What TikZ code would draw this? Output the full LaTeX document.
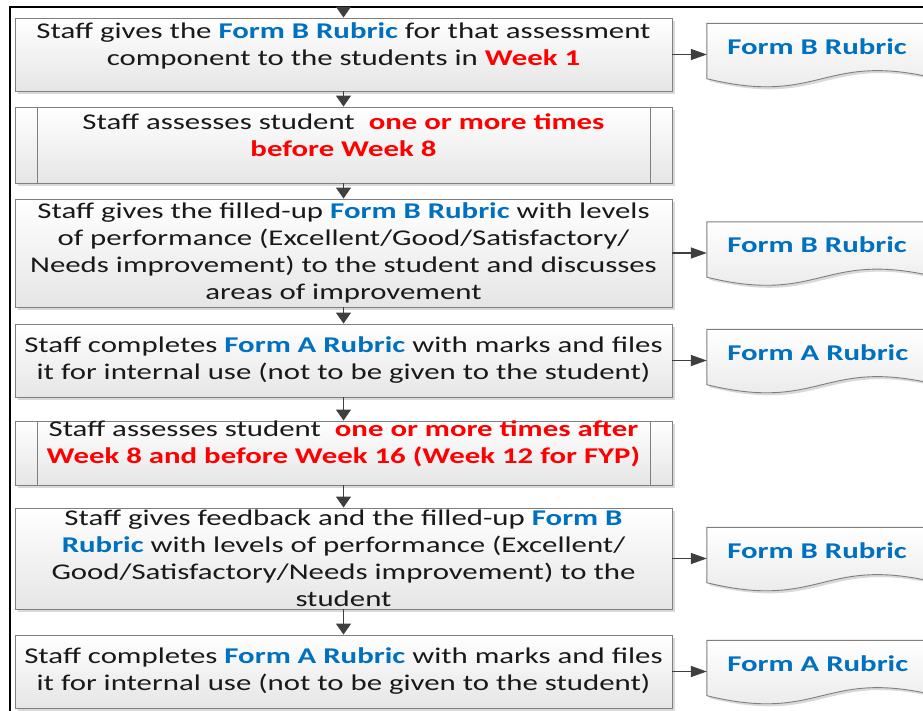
\documentclass[tikz,border=0pt]{standalone}
\usepackage{fontspec}
\setmainfont{Carlito}[FakeStretch=1.37]
\usetikzlibrary{arrows.meta, shadows, backgrounds, positioning}

\definecolor{rubricblue}{HTML}{0070C0}
\definecolor{weekred}{HTML}{FF0000}
\definecolor{boxgray}{HTML}{7F7F7F}
\definecolor{arrowgray}{HTML}{3F3F3F}

\newcommand{\formA}{\textcolor{rubricblue}{\bfseries Form A Rubric}}
\newcommand{\formB}{\textcolor{rubricblue}{\bfseries Form B Rubric}}
\newcommand{\blu}[1]{\textcolor{rubricblue}{\bfseries #1}}
\newcommand{\wk}[1]{\textcolor{weekred}{\bfseries #1}}

\tikzset{
  boxfont/.style={font=\fontsize{22.5}{27}\selectfont, text=black!90},
  stepbox/.style={boxfont, draw=boxgray, line width=0.9pt, top color=white, bottom color=black!10,
    minimum width=657, inner sep=0pt, align=center,
    drop shadow={shadow xshift=2.5pt, shadow yshift=-2.5pt, opacity=0.3}},
  subbox/.style={stepbox, path picture={
    \draw[boxgray, line width=0.9pt]
      ([xshift=22pt]path picture bounding box.north west) -- ([xshift=22pt]path picture bounding box.south west)
      ([xshift=-22pt]path picture bounding box.north east) -- ([xshift=-22pt]path picture bounding box.south east);}},
  rubricdoc/.style={minimum width=230, minimum height=62, inner sep=0pt},
  docline/.style={draw=boxgray, line width=0.9pt, top color=white, bottom color=black!10,
    drop shadow={shadow xshift=2.5pt, shadow yshift=-2.5pt, opacity=0.3}},
  flow/.style={draw=arrowgray, line width=1.4pt, -{Triangle[length=11pt, width=15pt]}},
  side/.style={flow, -{Triangle[length=16pt, width=11pt]}},
  frameline/.style={draw=black, line width=2.8pt}
}

\begin{document}
\begin{tikzpicture}[x=1pt, y=-1pt]
\useasboundingbox (0,0) rectangle (923,710);
\clip (0,0) rectangle (923,710);

% outer frame
\draw[frameline] (10,7) rectangle (1000,800);

% steps
\node[stepbox, minimum height=73,
  label={[boxfont, align=center, yshift=9pt]center:{Staff gives the \formB{} for that assessment\\
  component to the students in \wk{Week 1}}}] (b1) at (343.5,54.5) {};
\node[subbox, minimum height=76,
  label={[boxfont, align=center, yshift=9.5pt]center:{Staff assesses student\ \ \wk{one or more times}\\
  \wk{before Week 8}}}] (b2) at (343.5,145) {};
\node[stepbox, minimum height=108] (b3) at (343.5,253) {Staff gives the filled-up \formB{} with levels\\
  of performance (Excellent/Good/Satisfactory/\\
  Needs improvement) to the student and discusses\\
  areas of improvement};
\node[stepbox, minimum height=73] (b4) at (343.5,360.5) {Staff completes \formA{} with marks and files\\
  it for internal use (not to be given to the student)};
\node[subbox, minimum height=64,
  label={[boxfont, align=center, yshift=9.5pt]center:{Staff assesses student\ \ \wk{one or more times after}\\
  \wk{Week 8 and before Week 16 (Week 12 for FYP)}}}] (b5) at (343.5,453) {};
\node[stepbox, minimum height=101] (b6) at (343.5,558.5) {Staff gives feedback and the filled-up \blu{Form B}\\
  \blu{Rubric} with levels of performance (Excellent/\\
  Good/Satisfactory/Needs improvement) to the\\
  student};
\node[stepbox, minimum height=73] (b7) at (343.5,671.5) {Staff completes \formA{} with marks and files\\
  it for internal use (not to be given to the student)};

% rubric documents
\node[rubricdoc, label={[boxfont, anchor=west, xshift=17pt, yshift=8pt]west:{\formB}}] (d1) at (822,54.5) {};
\node[rubricdoc, label={[boxfont, anchor=west, xshift=17pt, yshift=8pt]west:{\formB}}] (d2) at (822,253) {};
\node[rubricdoc, label={[boxfont, anchor=west, xshift=17pt, yshift=8pt]west:{\formA}}] (d3) at (822,360.5) {};
\node[rubricdoc, label={[boxfont, anchor=west, xshift=17pt, yshift=8pt]west:{\formB}}] (d4) at (822,558.5) {};
\node[rubricdoc, label={[boxfont, anchor=west, xshift=17pt, yshift=8pt]west:{\formA}}] (d5) at (822,671.5) {};

\begin{scope}[on background layer]
\foreach \d in {d1,d2,d3,d4,d5}
  \path[docline] (\d.north west) -- (\d.north east) -- ([yshift=7pt]\d.south east)
    .. controls ([yshift=35pt]\d.south) and ([yshift=-21pt]\d.south) .. ([yshift=7pt]\d.south west) -- cycle;
\end{scope}

% connectors
\coordinate (start) at (343.5,7);
\draw[flow] (start) -- (b1);
\draw[flow] (b1) -- (b2);
\draw[flow] (b2) -- (b3);
\draw[flow] (b3) -- (b4);
\draw[flow] (b4) -- (b5);
\draw[flow] (b5) -- (b6);
\draw[flow] (b6) -- (b7);

\draw[side] (b1) -- (d1);
\draw[side] (b3) -- (d2);
\draw[side] (b4) -- (d3);
\draw[side] (b6) -- (d4);
\draw[side] (b7) -- (d5);
\end{tikzpicture}
\end{document}
